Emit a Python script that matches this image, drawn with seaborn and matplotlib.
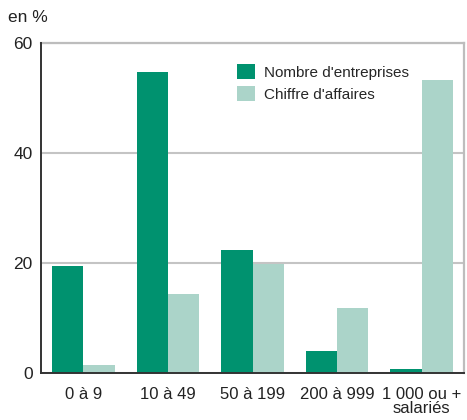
import matplotlib
matplotlib.use("Agg")
import matplotlib.pyplot as plt
import seaborn as sns
import pandas as pd
from matplotlib import font_manager

categories = ["0 à 9", "10 à 49", "50 à 199", "200 à 999", "1 000 ou +\nsalariés"]
series_names = ["Nombre d'entreprises", "Chiffre d'affaires"]
nombre_entreprises = [19.4, 54.8, 22.3, 4.0, 0.7]
chiffre_affaires = [1.5, 14.3, 19.8, 11.9, 53.3]
y_ticks = [0, 20, 40, 60]

colors = ["#00926f", "#abd4c9"]

sns.set_theme(style="white")
names = {f.name for f in font_manager.fontManager.ttflist}
family = "Liberation Sans Narrow" if "Liberation Sans Narrow" in names else "Liberation Sans"
plt.rcParams["font.family"] = [family, "DejaVu Sans"]

df = pd.DataFrame({
    "cat": categories * 2,
    "val": nombre_entreprises + chiffre_affaires,
    "serie": [series_names[0]] * 5 + [series_names[1]] * 5,
})

fig = plt.figure(figsize=(4.67, 4.2), dpi=100)
ax = fig.add_axes([41 / 467, 1 - 373 / 420, 423 / 467, 330 / 420])

sns.barplot(data=df, x="cat", y="val", hue="serie", palette=colors,
            width=0.74, gap=0, saturation=1, ax=ax, legend=True,
            linewidth=0, edgecolor="none", zorder=3)

ax.set_xlim(-0.5, 4.5)
ax.set_ylim(0, 60)
ax.set_yticks(y_ticks)
ax.set_yticklabels([str(t) for t in y_ticks], fontsize=12.5, color="#222222")
ax.tick_params(axis="x", labelsize=12, colors="#222222", length=0, pad=10)
ax.tick_params(axis="y", length=0, pad=6)
for lbl in ax.get_xticklabels():
    lbl.set_linespacing(0.95)
ax.set_xlabel("")
ax.set_ylabel("")

ax.grid(axis="y", color="#c4c4c4", linewidth=1.5, zorder=0)
ax.set_axisbelow(True)
for side in ["top", "right"]:
    ax.spines[side].set_color("#bdbdbd")
    ax.spines[side].set_linewidth(1.6)
for side in ["left", "bottom"]:
    ax.spines[side].set_color("#333333")
    ax.spines[side].set_linewidth(1.4)
    ax.spines[side].set_zorder(4)

ax.legend(title=None, frameon=False, fontsize=11,
          loc="upper left", bbox_to_anchor=(0.45, 0.955),
          handlelength=1.15, handleheight=1.15, handletextpad=0.6,
          labelspacing=0.4, borderaxespad=0)

fig.text(8 / 467, 1 - 18 / 420, "en %", fontsize=12.5, color="#222222",
         va="center", ha="left")

fig.savefig("out.png", dpi=100)
